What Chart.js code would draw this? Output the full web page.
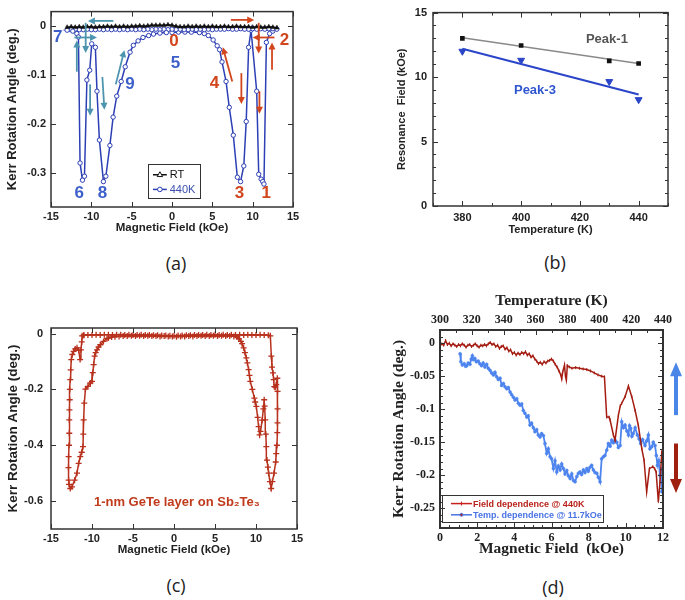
<!DOCTYPE html>
<html><head><meta charset="utf-8">
<script src="https://cdn.jsdelivr.net/npm/chart.js@4.4.1/dist/chart.umd.min.js"></script>
<style>
body{margin:0;background:#fff;width:685px;height:600px;position:relative;overflow:hidden}
.box{position:absolute}
canvas{display:block}
.cap{position:absolute;width:40px;text-align:center;font-family:"Open Sans",sans-serif;font-size:18px;line-height:24px;color:#222}
</style></head><body>
<div class="box" style="left:0;top:0"><canvas id="ca" width="340" height="245"></canvas></div>
<div class="box" style="left:340px;top:0"><canvas id="cb" width="345" height="245"></canvas></div>
<div class="box" style="left:0;top:300px"><canvas id="cc" width="340" height="262"></canvas></div>
<div class="box" style="left:340px;top:280px"><canvas id="cd" width="345" height="285"></canvas></div>
<div class="cap" style="left:156px;top:251px">(a)</div>
<div class="cap" style="left:535px;top:250px">(b)</div>
<div class="cap" style="left:156px;top:573px">(c)</div>
<div class="cap" style="left:533px;top:575px">(d)</div>
<script>
// ---------- DATA ----------
// (a) Kerr rotation vs field
const aRt = [[-13,-0.002],[-12.5,-0.001],[-12,-0.002],[-11.5,-0.001],[-11,-0.002],[-10.5,-0.001],[-10,-0.001],[-9.5,-0.002],[-9,-0.001],[-8.5,-0.001],[-8,0],[-7.5,-0.001],[-7,0],[-6.5,-0.001],[-6,0],[-5.5,-0.001],[-5,0],[-4.5,0],[-4,0.001],[-3.5,0],[-3,0.001],[-2.5,0.002],[-2,0.002],[-1.5,0.002],[-1,0.002],[-0.5,0.003],[0,0.002],[0.5,0],[1,-0.001],[1.5,-0.001],[2,0],[2.5,-0.001],[3,0],[3.5,-0.001],[4,0],[4.5,-0.001],[5,0],[5.5,-0.001],[6,-0.001],[6.5,0],[7,-0.001],[7.5,-0.001],[8,0],[8.5,-0.001],[9,-0.001],[9.5,-0.001],[10,-0.002],[10.5,-0.001],[11,-0.002],[11.5,-0.002],[12,-0.001],[12.5,-0.002],[13,-0.003]];
const aHotUp = [[0,-0.013],[0.8,-0.012],[1.6,-0.012],[2.4,-0.012],[3.4,-0.013],[4.0,-0.015],[4.5,-0.019],[5.1,-0.028],[5.6,-0.04],[5.9,-0.048],[6.2,-0.073],[6.7,-0.113],[7.1,-0.166],[7.6,-0.223],[8.1,-0.309],[8.5,-0.318],[8.9,-0.286],[9.2,-0.195],[9.5,-0.043],[9.8,-0.008],[10.5,-0.133],[10.75,-0.303],[11.05,-0.313],[11.25,-0.318],[11.4,-0.323],[11.7,-0.033],[12.1,-0.015],[12.5,-0.01],[13,-0.006]];
const aHotBack = [[12.5,-0.005],[12,-0.005],[11.5,-0.006],[11,-0.005],[10.5,-0.006],[10,-0.005],[9.5,-0.006],[9,-0.006],[8.5,-0.005],[8,-0.006],[7.5,-0.006],[7,-0.005],[6.5,-0.006],[6,-0.006],[5.5,-0.006],[5,-0.007],[4.5,-0.006],[4,-0.007],[3.5,-0.006],[3,-0.007],[2.5,-0.006],[2,-0.007],[1.5,-0.007],[1,-0.006],[0.5,-0.007],[0,-0.006],[-0.5,-0.007],[-1,-0.006],[-1.5,-0.007],[-2,-0.006],[-2.5,-0.007],[-3,-0.006],[-3.5,-0.007],[-4,-0.006],[-4.5,-0.007],[-5,-0.006],[-5.5,-0.007],[-6,-0.006],[-6.5,-0.007],[-7,-0.006],[-7.5,-0.007],[-8,-0.006],[-8.5,-0.007],[-9,-0.006],[-9.5,-0.007],[-10,-0.007],[-10.5,-0.006],[-11,-0.007],[-11.5,-0.007],[-12,-0.006],[-12.5,-0.007],[-13,-0.008]];
const aHotNeg = [[-12.3,-0.01],[-11.8,-0.015],[-11.6,-0.022],[-11.4,-0.28],[-11.1,-0.315],[-10.85,-0.307],[-10.55,-0.11],[-10.2,-0.09],[-9.95,-0.036],[-9.5,-0.043],[-9.3,-0.133],[-9.0,-0.233],[-8.5,-0.318],[-8.2,-0.307],[-7.7,-0.244],[-7.3,-0.186],[-6.85,-0.143],[-6.3,-0.113],[-5.8,-0.083],[-5.2,-0.053],[-4.8,-0.039],[-4.2,-0.03],[-3.6,-0.023],[-2.9,-0.019],[-2.3,-0.016],[-1.5,-0.014],[-0.7,-0.013]];
const aYTicks = [-0.3,-0.2,-0.1,0];
const aStateLabels = [["0",0.23,-0.031,"red"],["5",0.43,-0.076,"blue"],["4",5.28,-0.117,"red"],["3",8.37,-0.343,"red"],["1",11.67,-0.343,"red"],["2",13.93,-0.029,"red"],["7",-14.18,-0.023,"blue"],["6",-11.5,-0.343,"blue"],["8",-8.63,-0.343,"blue"],["9",-5.21,-0.119,"blue"]];
const aArrowsRed = [[7.3,0.013,10.2,0.013],[10.75,0.007,10.75,-0.056],[12.7,-0.023,10.0,-0.023],[12.4,-0.089,12.4,-0.033],[7.47,-0.113,6.3,-0.043],[8.6,-0.096,8.6,-0.159],[10.84,-0.133,10.84,-0.179]];
const aArrowsTeal = [[-7.27,0.011,-10.43,0.011],[-10.7,0.007,-10.7,-0.055],[-12.1,-0.023,-9.3,-0.023],[-11.8,-0.093,-11.8,-0.029],[-10.15,-0.119,-10.15,-0.183],[-8.63,-0.104,-8.38,-0.171],[-6.97,-0.119,-5.9,-0.049]];

// (b) resonance field vs temperature
const bPeak1 = [[380,13.0],[400,12.45],[430,11.25],[440,11.05]];
const bPeak3 = [[380,12.0],[400,11.3],[430,9.65],[440,8.25]];
const bFit1 = [[380,13.05],[440,11.05]];
const bFit3 = [[380,12.2],[440,8.65]];

// (c) 1-nm GeTe on Sb2Te3 loop
const cTop = [[-11.0,-0.006],[-10.5,-0.005],[-10.0,-0.005],[-9.5,-0.004],[-9.0,-0.005],[-8.5,-0.004],[-8.0,-0.004],[-7.5,-0.005],[-7.0,-0.004],[-6.5,-0.004],[-6.0,-0.005],[-5.5,-0.004],[-5.0,-0.005],[-4.5,-0.005],[-4.0,-0.004],[-3.5,-0.005],[-3.0,-0.005],[-2.5,-0.006],[-2.0,-0.006],[-1.5,-0.007],[-1.0,-0.007],[-0.5,-0.008],[0,-0.008],[0.5,-0.007],[1.0,-0.007],[1.5,-0.006],[2.0,-0.006],[2.5,-0.005],[3.0,-0.005],[3.5,-0.005],[4.0,-0.004],[4.5,-0.005],[5.0,-0.004],[5.5,-0.005],[6.0,-0.004],[6.5,-0.005],[7.0,-0.004],[7.5,-0.005],[8.0,-0.004],[8.5,-0.005],[9.0,-0.004],[9.5,-0.005],[10.0,-0.005],[10.5,-0.004],[11.0,-0.005],[11.5,-0.006],[11.75,-0.008]];
const cRight = [[11.87,-0.081],[11.95,-0.12],[12.07,-0.141],[12.15,-0.165],[12.23,-0.19],[12.35,-0.192],[12.47,-0.183],[12.6,-0.16],[12.63,-0.207],[12.63,-0.27],[12.62,-0.32],[12.6,-0.355],[12.55,-0.40],[12.47,-0.43],[12.4,-0.46],[12.2,-0.50],[12.0,-0.53],[11.85,-0.555],[11.7,-0.53],[11.54,-0.5],[11.45,-0.478],[11.34,-0.453],[11.26,-0.405],[11.2,-0.36],[11.13,-0.309],[11.05,-0.26],[11.0,-0.237],[10.9,-0.27],[10.75,-0.31],[10.55,-0.35],[10.44,-0.363],[10.32,-0.333],[10.2,-0.3],[10.04,-0.261],[9.9,-0.245],[9.8,-0.231],[9.55,-0.2],[9.31,-0.171],[9.2,-0.15],[9.1,-0.129],[8.95,-0.105],[8.82,-0.087],[8.65,-0.068],[8.49,-0.051],[8.3,-0.036],[8.17,-0.028],[7.9,-0.018],[7.68,-0.012],[7.3,-0.01]];
const cBottom = [[6.8,-0.009],[6.3,-0.009],[5.8,-0.008],[5.3,-0.009],[4.8,-0.008],[4.3,-0.009],[3.8,-0.009],[3.3,-0.008],[2.8,-0.009],[2.3,-0.01],[1.8,-0.009],[1.3,-0.01],[0.8,-0.01],[0.3,-0.011],[-0.2,-0.01],[-0.7,-0.01],[-1.2,-0.009],[-1.7,-0.01],[-2.2,-0.009],[-2.7,-0.009],[-3.2,-0.008],[-3.7,-0.009],[-4.2,-0.008],[-4.7,-0.009],[-5.2,-0.008],[-5.7,-0.009],[-6.2,-0.009],[-6.7,-0.01],[-7.2,-0.011],[-7.6,-0.012]];
const cLeft = [[-8.0,-0.016],[-8.17,-0.018],[-8.6,-0.028],[-8.99,-0.04],[-9.2,-0.048],[-9.39,-0.058],[-9.55,-0.068],[-9.68,-0.081],[-9.8,-0.111],[-9.9,-0.14],[-10.0,-0.171],[-10.2,-0.177],[-10.5,-0.189],[-10.8,-0.199],[-10.94,-0.249],[-11.02,-0.309],[-11.06,-0.36],[-11.1,-0.405],[-11.25,-0.425],[-11.43,-0.441],[-11.63,-0.465],[-11.83,-0.5],[-12.12,-0.525],[-12.44,-0.549],[-12.65,-0.555],[-12.8,-0.54],[-12.85,-0.525],[-12.87,-0.48],[-12.85,-0.441],[-12.8,-0.4],[-12.77,-0.357],[-12.77,-0.309],[-12.75,-0.273],[-12.72,-0.237],[-12.7,-0.2],[-12.65,-0.165],[-12.6,-0.13],[-12.52,-0.093],[-12.4,-0.075],[-12.24,-0.064],[-12.05,-0.055],[-11.83,-0.051],[-11.63,-0.06],[-11.45,-0.093],[-11.35,-0.058],[-11.25,-0.03],[-11.2,-0.008],[-11.0,-0.006]];
const cYTicks = [-0.6,-0.4,-0.2,0];

// (d) field dependence (bottom axis, kOe) and temperature dependence (top axis, K)
const dField = [[0,-0.004],[0.1,-0.001],[0.2,-0.003],[0.3,0.004],[0.4,-0.002],[0.5,0],[0.6,-0.004],[0.7,-0.001],[0.8,-0.003],[0.9,-0.005],[1.0,-0.002],[1.1,-0.004],[1.2,-0.001],[1.3,-0.003],[1.4,-0.006],[1.5,-0.003],[1.6,-0.002],[1.7,-0.005],[1.8,-0.003],[1.9,-0.001],[2.0,-0.004],[2.1,-0.006],[2.2,-0.003],[2.3,-0.004],[2.4,-0.002],[2.5,-0.004],[2.6,-0.001],[2.7,0.001],[2.8,-0.002],[2.9,-0.001],[3.0,-0.005],[3.1,-0.003],[3.2,-0.008],[3.3,-0.005],[3.4,-0.004],[3.5,-0.009],[3.6,-0.007],[3.7,-0.012],[3.8,-0.01],[3.9,-0.016],[4.0,-0.014],[4.1,-0.018],[4.2,-0.015],[4.3,-0.017],[4.4,-0.014],[4.5,-0.016],[4.6,-0.013],[4.7,-0.018],[4.8,-0.016],[4.9,-0.021],[5.0,-0.019],[5.1,-0.024],[5.2,-0.027],[5.3,-0.031],[5.4,-0.029],[5.5,-0.032],[5.6,-0.028],[5.7,-0.03],[5.8,-0.027],[5.9,-0.026],[6.0,-0.024],[6.1,-0.027],[6.2,-0.032],[6.3,-0.036],[6.4,-0.042],[6.5,-0.048],[6.55,-0.054],[6.6,-0.044],[6.7,-0.033],[6.75,-0.05],[6.8,-0.056],[6.85,-0.034],[6.95,-0.036],[7.1,-0.038],[7.3,-0.037],[7.5,-0.038],[7.7,-0.039],[7.9,-0.04],[8.1,-0.042],[8.3,-0.045],[8.5,-0.048],[8.7,-0.05],[8.85,-0.051],[8.97,-0.112],[9.1,-0.112],[9.15,-0.116],[9.33,-0.139],[9.42,-0.147],[9.6,-0.109],[9.7,-0.095],[9.78,-0.091],[9.96,-0.081],[10.14,-0.065],[10.32,-0.081],[10.5,-0.102],[10.67,-0.124],[10.86,-0.16],[10.98,-0.177],[11.12,-0.225],[11.27,-0.19],[11.45,-0.187],[11.55,-0.19],[11.63,-0.195],[11.75,-0.24],[11.84,-0.21],[11.93,-0.167],[12.0,-0.175]];
const dTemp = [[312.6,-0.016],[313.1,-0.028],[314.0,-0.033],[315.2,-0.031],[316.1,-0.035],[316.8,-0.034],[317.7,-0.03],[318.8,-0.032],[319.6,-0.024],[320.3,-0.019],[321.0,-0.025],[321.9,-0.023],[322.8,-0.028],[324.0,-0.027],[325.0,-0.031],[326.1,-0.034],[327.1,-0.03],[328.2,-0.036],[329.3,-0.032],[330.3,-0.038],[331.4,-0.041],[332.4,-0.045],[333.5,-0.048],[334.5,-0.044],[335.6,-0.051],[336.6,-0.055],[337.7,-0.053],[338.7,-0.064],[339.8,-0.061],[340.8,-0.066],[341.9,-0.069],[342.9,-0.067],[344.0,-0.074],[345.0,-0.078],[346.1,-0.082],[347.1,-0.086],[348.2,-0.084],[349.2,-0.091],[350.3,-0.094],[351.3,-0.092],[352.3,-0.102],[353.3,-0.106],[354.5,-0.112],[355.4,-0.11],[356.5,-0.124],[357.5,-0.121],[358.6,-0.128],[359.6,-0.134],[360.7,-0.131],[361.7,-0.139],[362.8,-0.142],[363.8,-0.137],[364.9,-0.14],[365.9,-0.152],[367.0,-0.167],[368.0,-0.16],[369.1,-0.172],[370.0,-0.175],[371.2,-0.19],[372.2,-0.178],[373.3,-0.195],[374.3,-0.186],[375.4,-0.192],[376.4,-0.183],[377.5,-0.19],[378.5,-0.198],[379.6,-0.193],[380.6,-0.201],[381.7,-0.205],[382.7,-0.198],[383.8,-0.208],[384.8,-0.21],[385.9,-0.202],[386.9,-0.197],[387.9,-0.195],[388.9,-0.199],[390.0,-0.192],[391.0,-0.196],[392.2,-0.19],[393.1,-0.194],[394.2,-0.188],[395.2,-0.185],[396.3,-0.192],[397.3,-0.196],[398.4,-0.197],[399.4,-0.203],[400.5,-0.21],[401.5,-0.175],[402.6,-0.172],[403.6,-0.17],[404.7,-0.162],[405.7,-0.152],[406.8,-0.156],[407.8,-0.147],[408.9,-0.151],[409.9,-0.147],[411.0,-0.15],[412.0,-0.158],[413.1,-0.155],[414.1,-0.119],[415.2,-0.128],[416.2,-0.124],[417.3,-0.133],[418.3,-0.139],[419.0,-0.125],[419.7,-0.129],[420.5,-0.141],[421.3,-0.137],[422.5,-0.128],[423.9,-0.139],[425.0,-0.145],[426.0,-0.152],[427.2,-0.146],[428.7,-0.155],[429.7,-0.148],[430.8,-0.139],[431.8,-0.16],[432.9,-0.157],[433.9,-0.15],[435.0,-0.155],[435.8,-0.17],[436.5,-0.185],[437.3,-0.178],[438.1,-0.2],[438.8,-0.19],[439.2,-0.225],[439.7,-0.205],[440.0,-0.175]];

// ---------- HELPERS ----------
const pts = arr => arr.map(p => ({x: p[0], y: p[1]}));
const SANS = '"Liberation Sans", Arial, sans-serif';
const SERIF = '"Liberation Serif", "Times New Roman", serif';
const RED = '#d2461d', BLUE = '#3c5fca', TEAL = '#4d95ae';

function arrow(ctx, x1, y1, x2, y2, color, lw, head, hw) {
  const a = Math.atan2(y2 - y1, x2 - x1), c = Math.cos(a), s = Math.sin(a);
  ctx.save();
  ctx.strokeStyle = color; ctx.fillStyle = color; ctx.lineWidth = lw;
  ctx.beginPath(); ctx.moveTo(x1, y1); ctx.lineTo(x2 - c * head * 0.8, y2 - s * head * 0.8); ctx.stroke();
  ctx.beginPath(); ctx.moveTo(x2, y2);
  ctx.lineTo(x2 - head * c + hw * s, y2 - head * s - hw * c);
  ctx.lineTo(x2 - head * c - hw * s, y2 - head * s + hw * c);
  ctx.closePath(); ctx.fill(); ctx.restore();
}
function marker(ctx, style, x, y, r, color, fill) {
  ctx.save(); ctx.strokeStyle = color; ctx.fillStyle = fill; ctx.lineWidth = 1;
  ctx.beginPath();
  if (style === 'triangle') { ctx.moveTo(x, y - r); ctx.lineTo(x + r * 0.9, y + r * 0.6); ctx.lineTo(x - r * 0.9, y + r * 0.6); ctx.closePath(); ctx.fill(); ctx.stroke(); }
  else if (style === 'circle') { ctx.arc(x, y, r, 0, Math.PI * 2); ctx.fill(); ctx.stroke(); }
  else { ctx.moveTo(x, y - r); ctx.lineTo(x, y + r); ctx.stroke(); }
  ctx.restore();
}

const framePlugin = {
  id: 'frame',
  afterDraw(chart, args, o) {
    const ctx = chart.ctx, a = chart.chartArea;
    ctx.save();
    ctx.strokeStyle = o.color || '#333';
    ctx.lineWidth = 1;
    for (const id in chart.scales) {
      const s = chart.scales[id];
      s.ticks.forEach(t => {
        const major = t.label !== '' && t.label !== undefined;
        const len = major ? (o.major || 5) : (o.minor || 3);
        const p = Math.round(s.getPixelForValue(t.value)) + 0.5;
        ctx.beginPath();
        if (s.isHorizontal()) {
          if (s.position === 'bottom') { ctx.moveTo(p, a.bottom); ctx.lineTo(p, a.bottom - len); if (o.mirrorX) { ctx.moveTo(p, a.top); ctx.lineTo(p, a.top + len); } }
          else { ctx.moveTo(p, a.top); ctx.lineTo(p, a.top + len); }
        } else {
          ctx.moveTo(a.left, p); ctx.lineTo(a.left + len, p);
          if (o.mirrorY) { ctx.moveTo(a.right, p); ctx.lineTo(a.right - len, p); }
        }
        ctx.stroke();
      });
    }
    ctx.lineWidth = o.width || 1.5;
    ctx.strokeRect(a.left, a.top, a.right - a.left, a.bottom - a.top);
    ctx.restore();
  }
};

const annotPlugin = {
  id: 'annot',
  afterDatasetsDraw(chart, args, o) {
    const ctx = chart.ctx, xs = chart.scales.x, ys = chart.scales.y;
    const X = v => xs.getPixelForValue(v), Y = v => ys.getPixelForValue(v);
    ctx.save();
    (o.arrows || []).forEach(g => g.list.forEach(r => arrow(ctx, X(r[0]), Y(r[1]), X(r[2]), Y(r[3]), g.color, g.lw, g.head, g.hw)));
    (o.texts || []).forEach(t => {
      ctx.font = t.font; ctx.fillStyle = t.color; ctx.textAlign = t.align || 'center'; ctx.textBaseline = 'middle';
      ctx.fillText(t.text, X(t.x), Y(t.y));
    });
    const L = o.legend;
    if (L) {
      const x1 = X(L.box[0]), y1 = Y(L.box[1]), x2 = X(L.box[2]), y2 = Y(L.box[3]);
      ctx.fillStyle = '#fff'; ctx.fillRect(x1, y1, x2 - x1, y2 - y1);
      ctx.strokeStyle = '#333'; ctx.lineWidth = 1; ctx.strokeRect(Math.round(x1) + 0.5, Math.round(y1) + 0.5, Math.round(x2 - x1), Math.round(y2 - y1));
      L.rows.forEach(r => {
        const yy = Y(r.y);
        ctx.strokeStyle = r.color; ctx.lineWidth = r.lw || 1.5;
        ctx.beginPath(); ctx.moveTo(X(L.lx[0]), yy); ctx.lineTo(X(L.lx[1]), yy); ctx.stroke();
        marker(ctx, r.marker, (X(L.lx[0]) + X(L.lx[1])) / 2, yy, r.r || 2.5, r.color, r.fill || r.color);
        ctx.font = L.font; ctx.fillStyle = r.textColor; ctx.textAlign = 'left'; ctx.textBaseline = 'middle';
        ctx.fillText(r.text, X(L.tx), yy + 0.5);
      });
    }
    ctx.restore();
  }
};

function axis(opts) {
  const fam = opts.family || SANS;
  const o = {
    type: 'linear', min: opts.min, max: opts.max, position: opts.position,
    grid: {display: false, drawTicks: false}, border: {display: false},
    ticks: {padding: opts.tpad, autoSkip: false, maxRotation: 0, minRotation: 0, color: '#222',
            font: {family: fam, weight: 'bold', size: opts.tsize || 11}},
    title: {display: true, text: opts.title, color: '#222',
            font: {family: fam, weight: 'bold', size: opts.titleSize || 11.5}, padding: opts.titlePad}
  };
  if (opts.axis) o.axis = opts.axis;
  if (opts.step) o.ticks.stepSize = opts.step;
  if (opts.cb) o.ticks.callback = opts.cb;
  if (opts.list) o.afterBuildTicks = s => { s.ticks = opts.list.map(v => ({value: v})); };
  if (opts.w !== undefined) o.afterFit = s => { s.width = opts.w; };
  if (opts.h !== undefined) o.afterFit = s => { s.height = opts.h; };
  return o;
}
const base = {responsive: false, animation: false, devicePixelRatio: 1, events: []};
const r1 = v => { const r = Math.round(v * 10) / 10; return r === 0 ? '0' : String(r); };

// ---------- (a) ----------
new Chart(document.getElementById('ca'), {
  type: 'scatter',
  data: {datasets: [
    {label: 'RT', data: pts(aRt), showLine: true, borderColor: '#111', borderWidth: 1.5, pointStyle: 'triangle', pointRadius: 2.6, pointBackgroundColor: '#111', pointBorderColor: '#111', pointBorderWidth: 0.5},
    {label: '440K', data: pts(aHotUp.concat(aHotBack, aHotNeg)), showLine: true, borderColor: '#2d3fb4', borderWidth: 1.5, pointStyle: 'circle', pointRadius: 2.2, pointBackgroundColor: '#fff', pointBorderColor: '#2d3fb4', pointBorderWidth: 1}
  ]},
  options: Object.assign({}, base, {
    layout: {padding: {left: 0, top: 7, right: 47, bottom: 0}},
    plugins: {legend: {display: false}, tooltip: {enabled: false},
      frame: {mirrorX: true, mirrorY: true},
      annot: {
        arrows: [{list: aArrowsRed, color: RED, lw: 1.8, head: 7, hw: 3.5}, {list: aArrowsTeal, color: TEAL, lw: 1.8, head: 7, hw: 3.5}],
        texts: aStateLabels.map(s => ({text: s[0], x: s[1], y: s[2], color: s[3] === 'red' ? RED : BLUE, font: 'bold 17px ' + SANS})),
        legend: {box: [-3.0, -0.282, 3.43, -0.352], lx: [-2.36, -0.64], tx: -0.28, font: '11px ' + SANS,
          rows: [{y: -0.304, text: 'RT', color: '#111', textColor: '#111', marker: 'triangle', r: 3},
                 {y: -0.334, text: '440K', color: '#2d3fb4', textColor: '#3a4fb0', marker: 'circle', fill: '#fff', r: 2.3}]}
      }},
    scales: {
      x: axis({min: -15, max: 15, step: 5, tpad: 3, title: 'Magnetic Field (kOe)', titleSize: 11.5, titlePad: {top: 0, bottom: 10}, h: 38}),
      y: axis({min: -0.37, max: 0.03, list: aYTicks, cb: r1, tpad: 5, title: 'Kerr Rotation Angle (deg.)', titleSize: 13, titlePad: {top: 5, bottom: 0}, w: 51})
    }
  }),
  plugins: [framePlugin, annotPlugin]
});

// ---------- (b) ----------
new Chart(document.getElementById('cb'), {
  type: 'scatter',
  data: {datasets: [
    {data: pts(bPeak1), pointStyle: 'rect', pointRadius: 3.3, pointBackgroundColor: '#111', pointBorderColor: '#111', borderWidth: 0},
    {data: pts(bPeak3), pointStyle: 'triangle', pointRotation: 180, pointRadius: 4, pointBackgroundColor: '#2a45c8', pointBorderColor: '#2a45c8'},
    {data: pts(bFit1), showLine: true, borderColor: '#8a8a8a', borderWidth: 1.5, pointRadius: 0},
    {data: pts(bFit3), showLine: true, borderColor: '#2a45c8', borderWidth: 2, pointRadius: 0}
  ]},
  options: Object.assign({}, base, {
    layout: {padding: {left: 0, top: 10, right: 17, bottom: 0}},
    plugins: {legend: {display: false}, tooltip: {enabled: false},
      frame: {mirrorX: true, mirrorY: true, major: 5, minor: 3},
      annot: {texts: [
        {text: 'Peak-1', x: 429.2, y: 12.93, color: '#555', font: 'bold 13px ' + SANS},
        {text: 'Peak-3', x: 404.7, y: 8.96, color: '#2f56d0', font: 'bold 13px ' + SANS}
      ]}},
    scales: {
      x: axis({min: 370, max: 450, step: 10, cb: v => (v % 20 === 0 ? String(v) : ''), tpad: 5, title: 'Temperature (K)', titleSize: 11, titlePad: {top: 0, bottom: 8}, h: 39}),
      y: axis({min: 0, max: 15, step: 1, cb: v => (v % 5 === 0 ? String(v) : ''), tpad: 6, title: 'Resonance  Field (kOe)', titleSize: 11, titlePad: {top: 55, bottom: 0}, w: 93})
    }
  }),
  plugins: [framePlugin, annotPlugin]
});

// ---------- (c) ----------
new Chart(document.getElementById('cc'), {
  type: 'scatter',
  data: {datasets: [
    {data: pts(cTop.concat(cRight, cBottom, cLeft)), showLine: true, borderColor: '#b8311c', borderWidth: 1.5, pointStyle: 'cross', pointRadius: 3, pointBorderColor: '#b8311c', pointBorderWidth: 1.3}
  ]},
  options: Object.assign({}, base, {
    layout: {padding: {left: 0, top: 28, right: 43, bottom: 0}},
    plugins: {legend: {display: false}, tooltip: {enabled: false},
      frame: {mirrorX: true, mirrorY: true},
      annot: {texts: [{text: '1-nm GeTe layer on Sb₂Te₃', x: 0.35, y: -0.605, color: '#c03a1c', font: 'bold 13px ' + SANS}]}},
    scales: {
      x: axis({min: -15, max: 15, step: 5, tpad: 3, title: 'Magnetic Field (kOe)', titleSize: 11.5, titlePad: {top: 0, bottom: 5}, h: 33}),
      y: axis({min: -0.7, max: 0.02, list: cYTicks, cb: r1, tpad: 8, title: 'Kerr Rotation Angle (deg.)', titleSize: 13.5, titlePad: {top: 5, bottom: 0}, w: 51})
    }
  }),
  plugins: [framePlugin, annotPlugin]
});

// ---------- (d) ----------
new Chart(document.getElementById('cd'), {
  type: 'scatter',
  data: {datasets: [
    {data: pts(dField), xAxisID: 'x', showLine: true, borderColor: '#a51d12', borderWidth: 1.5, pointStyle: 'line', pointRotation: 90, pointRadius: 1.5, pointBorderColor: '#a51d12', pointBorderWidth: 1},
    {data: pts(dTemp), xAxisID: 'x2', showLine: true, borderColor: '#4d84ee', borderWidth: 1.8, pointStyle: 'circle', pointRadius: 1.5, pointBackgroundColor: '#4d84ee', pointBorderColor: '#4d84ee', pointBorderWidth: 0.5}
  ]},
  options: Object.assign({}, base, {
    layout: {padding: {left: 0, top: 0, right: 22, bottom: 0}},
    plugins: {legend: {display: false}, tooltip: {enabled: false},
      frame: {mirrorX: false, mirrorY: true, major: 5, minor: 3, width: 2},
      annot: {
        arrows: [{list: [[12.7, -0.109, 12.7, -0.029]], color: '#4a86e8', lw: 4, head: 14, hw: 6},
                 {list: [[12.7, -0.152, 12.7, -0.227]], color: '#a0200f', lw: 4, head: 14, hw: 6}],
        legend: {box: [0.11, -0.23, 8.77, -0.271], lx: [0.59, 1.72], tx: 1.78, font: 'bold 9px ' + SANS,
          rows: [{y: -0.243, text: 'Field dependence @ 440K', color: '#c8201a', textColor: '#b8221a', marker: 'tick', r: 2},
                 {y: -0.26, text: 'Temp. dependence @ 11.7kOe', color: '#4a74e4', textColor: '#4a74e4', marker: 'circle', r: 1.5}]}
      }},
    scales: {
      x: axis({min: 0, max: 12, step: 0.5, family: SERIF, tsize: 12, cb: v => (Math.abs(v - Math.round(v)) < 1e-9 && Math.round(v) % 2 === 0 ? String(Math.round(v)) : ''), tpad: 3, title: 'Magnetic Field  (kOe)', titleSize: 15.5, titlePad: {top: 0, bottom: 7}, h: 37}),
      x2: axis({axis: 'x', position: 'top', min: 300, max: 440, step: 10, family: SERIF, tsize: 12, cb: v => (v % 20 === 0 ? String(v) : ''), tpad: 3, title: 'Temperature (K)', titleSize: 15.5, titlePad: {top: 12, bottom: 0}, h: 50}),
      y: axis({min: -0.28, max: 0.02, step: 0.01, family: SERIF, tsize: 12, cb: v => { const k = Math.round(v * 100); return k % 5 === 0 ? String(k === 0 ? 0 : k / 100) : ''; }, tpad: 5, title: 'Kerr Rotation Angle (deg.)', titleSize: 15.5, titlePad: {top: 50, bottom: 0}, w: 100})
    }
  }),
  plugins: [framePlugin, annotPlugin]
});
</script>
</body></html>
